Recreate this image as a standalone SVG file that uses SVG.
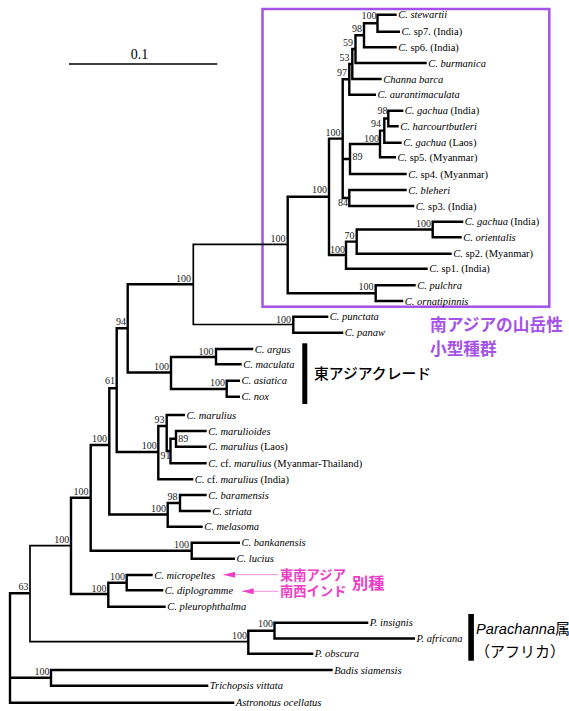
<svg xmlns="http://www.w3.org/2000/svg" width="569" height="711" viewBox="0 0 569 711">
<style>
.e{fill:none;stroke:#000;stroke-width:2.4;stroke-linejoin:miter}
.t{stroke-width:1.7}
.tip{font-family:"Liberation Serif",serif;font-size:10.5px;font-style:italic;fill:#000}
.r{font-style:normal}
.bs{font-family:"Liberation Serif",serif;font-size:10px;fill:#222;text-anchor:end}
.bsl{font-family:"Liberation Serif",serif;font-size:10px;fill:#222}
.jp{font-family:"Noto Sans CJK JP",sans-serif}
.pur{fill:#a452e8;font-weight:bold;font-size:16.7px}
.pnk{fill:#ee3ec8;font-weight:bold}
</style>
<defs>
<marker id="ah" viewBox="0 0 12 6" refX="12" refY="3" markerWidth="12" markerHeight="6" markerUnits="userSpaceOnUse" orient="auto">
<path d="M0 0L12 3L0 6z" fill="#ee3ec8"/>
</marker>
</defs>
<rect x="0" y="0" width="569" height="711" fill="#fff"/>

<g id="scalebar">
<path d="M69 64H217.3" stroke="#000" stroke-width="1.3"/>
<text x="139.5" y="59" font-family="Liberation Serif,serif" font-size="14" text-anchor="middle">0.1</text>
</g>

<g id="south-asia-box">
<rect x="262.5" y="9" width="286.8" height="297.7" fill="none" stroke="#a452e8" stroke-width="2.5"/>
</g>

<g id="connectors">
<path class="e" d="M396.7 14.7H377.5V31.7H400"/>
<path class="e" d="M377.5 23.2H364V47.3H396.7"/>
<path class="e" d="M364 35.3H355.5V63H426.7"/>
<path class="e" d="M355.5 49H352.3V79H381.7"/>
<path class="e" d="M352.3 64H349.3V94.7H376"/>
<path class="e" d="M403.3 110.7H388.3V126.3H398.7"/>
<path class="e" d="M388.3 118.5H384.3V142.7H401.7"/>
<path class="e" d="M384.3 130.6H380V157.3H396"/>
<path class="e" d="M380 144H350V174H406.7"/>
<path class="e" d="M406.7 190H349.3V206H414.3"/>
<path class="e" d="M349.3 79.3H342.7V198H349.3M342.7 159H350"/>
<path class="e" d="M463.3 221.7H432.7V237.3H461.7"/>
<path class="e" d="M432.7 229.5H356.7V253.7H451.7"/>
<path class="e" d="M356.7 241.6H346V268.7H427.7"/>
<path class="e" d="M342.7 138.6H329V255H346"/>
<path class="e" d="M415.7 285.3H375.7V301H403.3"/>
<path class="e" d="M329 196.7H287.7V293.2H375.7"/>
<path class="e" d="M328.3 316.7H293.3V332.7H343.3"/>
<path class="e t" d="M287.7 244.3H193.3V324.5H293.3"/>
<path class="e" d="M253.3 349H216V364.3H241.7"/>
<path class="e" d="M240 380.7H226.7V396.7H240"/>
<path class="e" d="M216 357H171V389H226.7"/>
<path class="e" d="M193.3 284.3H127.7V372.5H171"/>
<path class="e" d="M206.7 431H176V446.7H206.7"/>
<path class="e" d="M176 438.8H170.5V463.3H206.7"/>
<path class="e" d="M185 415H166.7V451H170.5"/>
<path class="e" d="M166.7 426H158.3V479.3H193.3"/>
<path class="e" d="M127.7 328.3H116.7V452H158.3"/>
<path class="e" d="M206.7 495H180V511H210.7"/>
<path class="e" d="M180 503H167.7V526.7H202.7"/>
<path class="e" d="M116.7 388.3H109.3V514.5H167.7"/>
<path class="e" d="M240 542.7H191.7V558.7H235"/>
<path class="e" d="M109.3 445H90.7V550.7H191.7"/>
<path class="e" d="M152.7 575H126.7V590.3H163.3"/>
<path class="e" d="M126.7 582.7H108.3V606.7H165.7"/>
<path class="e" d="M90.7 497.7H71V594H108.3"/>
<path class="e" d="M368.3 622.7H274.5V638.5H415"/>
<path class="e" d="M274.5 630.7H248.3V653.7H313.3"/>
<path class="e t" d="M71 545.7H30V641.7H248.3"/>
<path class="e" d="M332.7 670H51V685.7H208.3"/>
<path class="e" d="M30 593.3H10V702.7H234.3M10 677.8H51"/>
</g>

<g id="support-values">
<text class="bs" x="376.5" y="19.3">100</text>
<text class="bs" x="362" y="31.6">98</text>
<text class="bs" x="353" y="46">59</text>
<text class="bs" x="349.5" y="60.6">53</text>
<text class="bs" x="347" y="76">97</text>
<text class="bs" x="387.5" y="114">98</text>
<text class="bs" x="381" y="127.3">94</text>
<text class="bs" x="379" y="141.6">100</text>
<text class="bs" x="340.5" y="135.6">100</text>
<text class="bsl" x="352.5" y="160.3">89</text>
<text class="bs" x="348" y="206.3">84</text>
<text class="bs" x="327" y="193.3">100</text>
<text class="bs" x="431" y="226.6">100</text>
<text class="bs" x="354.5" y="238.6">70</text>
<text class="bs" x="345" y="253.3">100</text>
<text class="bs" x="285.5" y="241.6">100</text>
<text class="bs" x="373.5" y="290">100</text>
<text class="bs" x="191" y="281.6">100</text>
<text class="bs" x="291" y="322.6">100</text>
<text class="bs" x="126" y="325.3">94</text>
<text class="bs" x="169" y="370.3">100</text>
<text class="bs" x="213.5" y="355">100</text>
<text class="bs" x="225" y="386">100</text>
<text class="bs" x="115" y="384.3">61</text>
<text class="bs" x="107" y="441.6">100</text>
<text class="bs" x="164.5" y="422.6">93</text>
<text class="bs" x="156.7" y="449.3">100</text>
<text class="bsl" x="178.3" y="441.8">89</text>
<text class="bs" x="170.5" y="459.3">91</text>
<text class="bs" x="177.5" y="500">98</text>
<text class="bs" x="166" y="512.3">100</text>
<text class="bs" x="88.5" y="495">100</text>
<text class="bs" x="189" y="548.3">100</text>
<text class="bs" x="69.3" y="542.6">100</text>
<text class="bs" x="125" y="580">100</text>
<text class="bs" x="106.5" y="591.6">100</text>
<text class="bs" x="28.5" y="589.8">63</text>
<text class="bs" x="273" y="627.3">100</text>
<text class="bs" x="247" y="639">100</text>
<text class="bs" x="49.5" y="675">100</text>
</g>

<g id="tip-stewartii"><text class="tip" x="398.2" y="18.3">C. stewartii</text></g>
<g id="tip-sp7"><text class="tip" x="401.5" y="35.3">C.<tspan class="r"> sp7. (India)</tspan></text></g>
<g id="tip-sp6"><text class="tip" x="398.2" y="50.9">C.<tspan class="r"> sp6. (India)</tspan></text></g>
<g id="tip-burmanica"><text class="tip" x="428.2" y="66.6">C. burmanica</text></g>
<g id="tip-barca"><text class="tip" x="383.2" y="82.6">Channa barca</text></g>
<g id="tip-aurantimaculata"><text class="tip" x="377.5" y="98.3">C. aurantimaculata</text></g>
<g id="tip-gachua-india-1"><text class="tip" x="404.8" y="114.3">C. gachua<tspan class="r"> (India)</tspan></text></g>
<g id="tip-harcourtbutleri"><text class="tip" x="400.2" y="129.9">C. harcourtbutleri</text></g>
<g id="tip-gachua-laos"><text class="tip" x="403.2" y="146.3">C. gachua<tspan class="r"> (Laos)</tspan></text></g>
<g id="tip-sp5"><text class="tip" x="397.5" y="160.9">C.<tspan class="r"> sp5. (Myanmar)</tspan></text></g>
<g id="tip-sp4"><text class="tip" x="408.2" y="177.6">C.<tspan class="r"> sp4. (Myanmar)</tspan></text></g>
<g id="tip-bleheri"><text class="tip" x="408.2" y="193.6">C. bleheri</text></g>
<g id="tip-sp3"><text class="tip" x="415.8" y="209.6">C.<tspan class="r"> sp3. (India)</tspan></text></g>
<g id="tip-gachua-india-2"><text class="tip" x="464.8" y="225.3">C. gachua<tspan class="r"> (India)</tspan></text></g>
<g id="tip-orientalis"><text class="tip" x="463.2" y="240.9">C. orientalis</text></g>
<g id="tip-sp2"><text class="tip" x="453.2" y="257.3">C.<tspan class="r"> sp2. (Myanmar)</tspan></text></g>
<g id="tip-sp1"><text class="tip" x="429.2" y="272.3">C.<tspan class="r"> sp1. (India)</tspan></text></g>
<g id="tip-pulchra"><text class="tip" x="417.2" y="288.9">C. pulchra</text></g>
<g id="tip-ornatipinnis"><text class="tip" x="404.8" y="304.6">C. ornatipinnis</text></g>
<g id="tip-punctata"><text class="tip" x="329.8" y="320.3">C. punctata</text></g>
<g id="tip-panaw"><text class="tip" x="344.8" y="336.3">C. panaw</text></g>
<g id="tip-argus"><text class="tip" x="254.8" y="352.6">C. argus</text></g>
<g id="tip-maculata"><text class="tip" x="243.2" y="367.9">C. maculata</text></g>
<g id="tip-asiatica"><text class="tip" x="241.5" y="384.3">C. asiatica</text></g>
<g id="tip-nox"><text class="tip" x="241.5" y="400.3">C. nox</text></g>
<g id="tip-marulius"><text class="tip" x="186.5" y="418.6">C. marulius</text></g>
<g id="tip-marulioides"><text class="tip" x="208.2" y="434.6">C. marulioides</text></g>
<g id="tip-marulius-laos"><text class="tip" x="208.2" y="450.3">C. marulius<tspan class="r"> (Laos)</tspan></text></g>
<g id="tip-cf-marulius-mt"><text class="tip" x="208.2" y="466.9">C.<tspan class="r"> cf. </tspan>marulius<tspan class="r"> (Myanmar-Thailand)</tspan></text></g>
<g id="tip-cf-marulius-india"><text class="tip" x="194.8" y="482.9">C.<tspan class="r"> cf. </tspan>marulius<tspan class="r"> (India)</tspan></text></g>
<g id="tip-baramensis"><text class="tip" x="208.2" y="498.6">C. baramensis</text></g>
<g id="tip-striata"><text class="tip" x="212.2" y="514.6">C. striata</text></g>
<g id="tip-melasoma"><text class="tip" x="204.2" y="530.3">C. melasoma</text></g>
<g id="tip-bankanensis"><text class="tip" x="241.5" y="546.3">C. bankanensis</text></g>
<g id="tip-lucius"><text class="tip" x="236.5" y="562.3">C. lucius</text></g>
<g id="tip-micropeltes"><text class="tip" x="154.2" y="578.6">C. micropeltes</text></g>
<g id="tip-diplogramme"><text class="tip" x="164.8" y="593.9">C. diplogramme</text></g>
<g id="tip-pleurophthalma"><text class="tip" x="167.2" y="610.3">C. pleurophthalma</text></g>
<g id="tip-insignis"><text class="tip" x="369.8" y="626.3">P. insignis</text></g>
<g id="tip-africana"><text class="tip" x="416.5" y="642.1">P. africana</text></g>
<g id="tip-obscura"><text class="tip" x="314.8" y="657.3">P. obscura</text></g>
<g id="tip-badis"><text class="tip" x="334.2" y="673.6">Badis siamensis</text></g>
<g id="tip-trichopsis"><text class="tip" x="209.8" y="689.3">Trichopsis vittata</text></g>
<g id="tip-astronotus"><text class="tip" x="235.8" y="706.3">Astronotus ocellatus</text></g>

<g id="note-south-asia">
<text class="jp pur" x="430" y="331.3">南アジアの山岳性</text>
<text class="jp pur" x="430" y="355.3">小型種群</text>
</g>

<g id="note-east-asia">
<rect x="302.3" y="343.3" width="5" height="60.7" fill="#000"/>
<text class="jp" x="314" y="378.9" font-size="14.8" font-weight="500" fill="#000">東アジアクレード</text>
</g>

<g id="note-species">
<path d="M278.3 574.7H223.3" stroke="#f6a6df" stroke-width="1.2" marker-end="url(#ah)"/>
<path d="M278.3 591.3H241.7" stroke="#f6a6df" stroke-width="1.2" marker-end="url(#ah)"/>
<text class="jp pnk" x="280" y="579.7" font-size="13.3">東南アジア</text>
<text class="jp pnk" x="280" y="596.3" font-size="13.3">南西インド</text>
<text class="jp pnk" x="352" y="588.9" font-size="16.2">別種</text>
</g>

<g id="note-parachanna">
<rect x="468.3" y="614" width="5.6" height="46.7" fill="#000"/>
<text x="476" y="634" font-family="Liberation Sans,Noto Sans CJK JP,sans-serif" font-size="14.7" fill="#000"><tspan font-style="italic">Parachanna</tspan><tspan font-family="Noto Sans CJK JP,sans-serif">属</tspan></text>
<text class="jp" x="475" y="657.4" font-size="15" fill="#000">（アフリカ）</text>
</g>
</svg>
